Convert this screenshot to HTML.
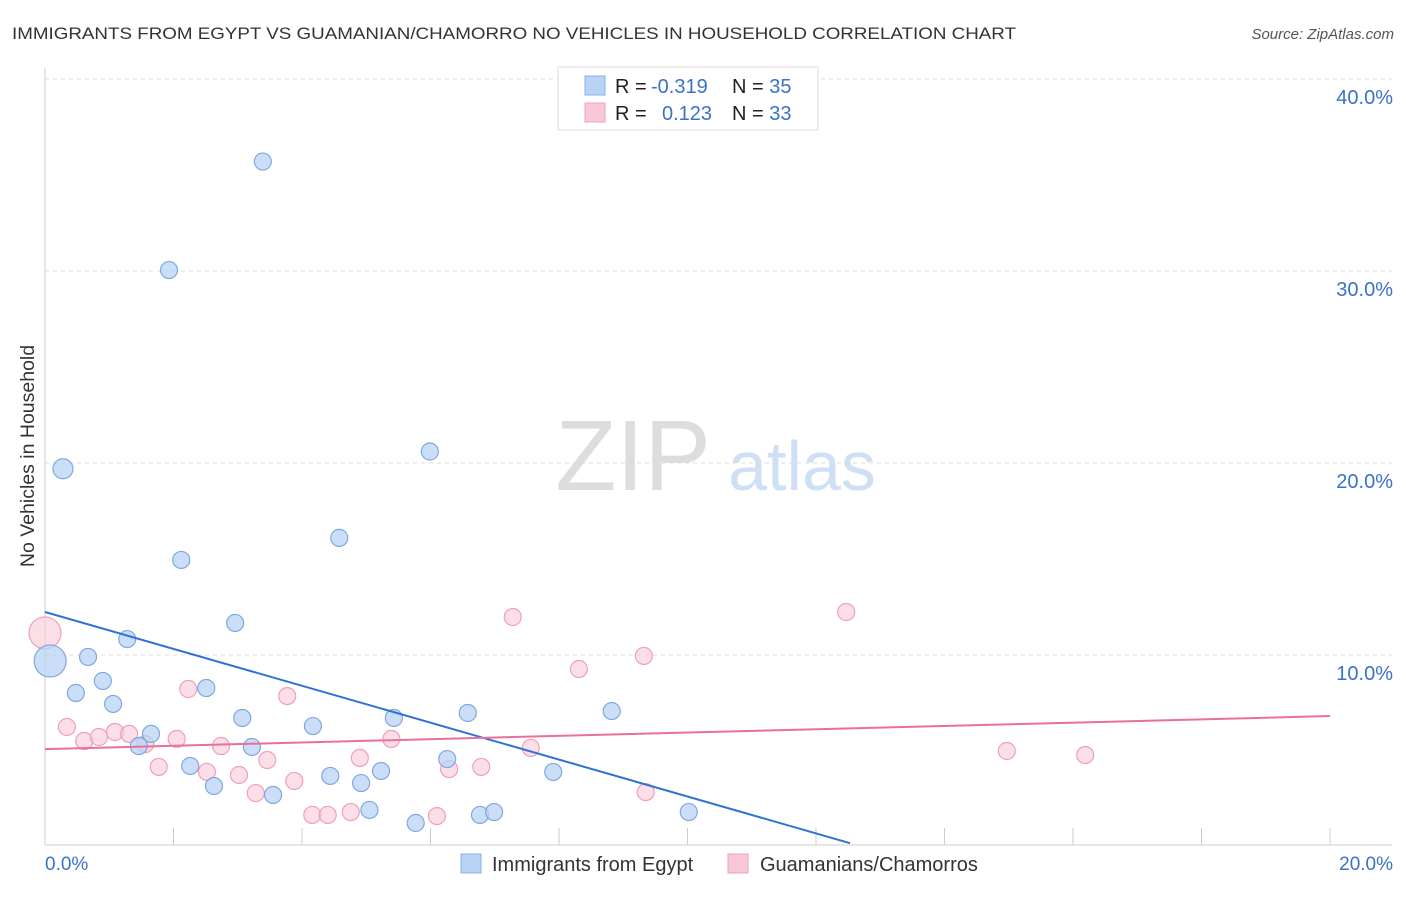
<!DOCTYPE html>
<html><head><meta charset="utf-8">
<style>
body{margin:0;background:#fff;font-family:"Liberation Sans",sans-serif;}
svg text{font-family:"Liberation Sans",sans-serif;}
</style></head>
<body>
<svg id="chart" width="1406" height="892">
<text x="12" y="39" font-size="17" fill="#333" textLength="1004" lengthAdjust="spacingAndGlyphs">IMMIGRANTS FROM EGYPT VS GUAMANIAN/CHAMORRO NO VEHICLES IN HOUSEHOLD CORRELATION CHART</text>
<text x="1394" y="39" font-size="15" fill="#555" font-style="italic" text-anchor="end">Source: ZipAtlas.com</text>
<text x="34" y="456" font-size="19.5" fill="#333" text-anchor="middle" transform="rotate(-90 34 456)">No Vehicles in Household</text>
<g>
<text x="633" y="490" font-size="100" fill="#ddd" font-family="Liberation Serif" text-anchor="middle">ZIP</text>
<text x="802" y="490" font-size="70" fill="#cfe0f5" text-anchor="middle">atlas</text>
</g>
<g id="grid"></g>
<g id="axes"></g>
<g id="marks"></g>
<g>
<rect x="558" y="67" width="260" height="63" fill="#fff" stroke="#ddd"/>
<rect x="585" y="76" width="20" height="19" fill="#b9d3f5" stroke="#88b0e8"/>
<rect x="585" y="103" width="20" height="19" fill="#f9c8d6" stroke="#eea0b8"/>
<text x="615" y="93" font-size="20" fill="#222">R = <tspan fill="#3a72c9" x="651">-0.319</tspan></text>
<text x="732" y="93" font-size="20" fill="#222">N = <tspan fill="#3a72c9">35</tspan></text>
<text x="615" y="120" font-size="20" fill="#222">R = <tspan fill="#3a72c9" x="662">0.123</tspan></text>
<text x="732" y="120" font-size="20" fill="#222">N = <tspan fill="#3a72c9">33</tspan></text>
</g>
<g>
<rect x="461" y="854" width="20" height="19" fill="#b9d3f5" stroke="#88b0e8"/>
<text x="492" y="871" font-size="20" fill="#333">Immigrants from Egypt</text>
<rect x="728" y="854" width="20" height="19" fill="#f9c8d6" stroke="#eea0b8"/>
<text x="760" y="871" font-size="20" fill="#333">Guamanians/Chamorros</text>
</g>
</svg>
<script>
const yTicks=[10,20,30,40];
const yTickLabels=["10.0%","20.0%","30.0%","40.0%"];
const xTickLabels=["0.0%","20.0%"];
const egyptX=[3.39,1.93,0.28,5.99,2.12,4.58,2.96,1.28,0.08,0.67,0.48,0.90,2.51,1.06,3.07,4.17,5.43,6.58,8.82,1.65,1.46,3.22,6.26,2.26,4.44,5.23,7.91,4.92,2.63,3.55,5.05,5.77,6.77,6.99,10.02];
const egyptY=[35.7,30.05,19.7,20.6,14.95,16.1,11.67,10.83,9.69,9.9,8.02,8.65,8.28,7.45,6.72,6.3,6.72,6.98,7.08,5.89,5.26,5.21,4.58,4.22,3.70,3.96,3.91,3.33,3.18,2.71,1.93,1.25,1.67,1.82,1.82];
const guamX=[0,7.28,12.47,9.32,8.31,2.23,3.77,0.34,0.61,0.84,1.09,1.31,1.56,2.05,2.74,5.39,7.56,14.97,16.19,3.46,4.90,1.77,2.52,3.02,6.29,6.79,3.88,3.28,9.35,4.16,4.40,4.76,6.10];
const guamY=[11.15,11.98,12.24,9.95,9.27,8.23,7.86,6.25,5.52,5.73,5.99,5.89,5.36,5.63,5.26,5.63,5.16,5.0,4.79,4.53,4.64,4.17,3.91,3.75,4.06,4.17,3.44,2.81,2.86,1.67,1.67,1.82,1.61];
const egyptTrend=[12.24,0.2];const egyptTrendX=[0,12.53];
const guamTrend=[5.1,6.82];const guamTrendX=[0,20];
const X=v=>45+v*64.25, Y=v=>847-v*19.2;
const NS="http://www.w3.org/2000/svg";
function mk(parent,tag,attrs){const e=document.createElementNS(NS,tag);for(const k in attrs)e.setAttribute(k,attrs[k]);document.getElementById(parent).appendChild(e);return e;}
yTicks.forEach((t,i)=>{
 const l=mk('grid','line',{x1:45,x2:1392,y1:Y(t),y2:Y(t),stroke:'#ddd','stroke-dasharray':'4,4'});
 
 
 const tx=mk('grid','text',{x:1393,y:Y(t)+25,'font-size':20,fill:'#3a72c9','text-anchor':'end'});
 tx.textContent=yTickLabels[i];
 
 
});
const ax=mk('axes','line',{x1:45,x2:45,y1:68,y2:845,stroke:'#ccc'});


const bx=mk('axes','line',{x1:45,x2:1392,y1:845,y2:845,stroke:'#ccc'});


for(let i=0;i<=10;i++){
 const t=mk('axes','line',{x1:X(i*2),x2:X(i*2),y1:828,y2:845,stroke:'#ccc'});
 
 
}
[[0,'start',45],[20,'end',1393]].forEach((d,i)=>{
 const t=mk('axes','text',{x:d[2],y:870,'font-size':19,fill:'#3a72c9','text-anchor':d[1]});
 t.textContent=xTickLabels[i];
 
 
});
function dots(xs,ys,fill,stroke,name){
 xs.forEach((x,i)=>{
  const r=(x<0.3&&ys[i]>9)?(x<0.1?16:10):8.5;
  const c=mk('marks','circle',{cx:X(x),cy:Y(ys[i]),r:r,fill:fill,stroke:stroke,'stroke-width':1.2});
  
  
 });
}
dots(guamX,guamY,'rgba(249,200,214,0.6)','#eea0b8','guam-point');
dots(egyptX,egyptY,'rgba(185,211,245,0.75)','#7fa8e0','egypt-point');
const l1=mk('marks','line',{x1:X(egyptTrendX[0]),y1:Y(egyptTrend[0]),x2:X(egyptTrendX[1]),y2:Y(egyptTrend[1]),stroke:'#2f72d6','stroke-width':2});


const l2=mk('marks','line',{x1:X(guamTrendX[0]),y1:Y(guamTrend[0]),x2:X(guamTrendX[1]),y2:Y(guamTrend[1]),stroke:'#e8709a','stroke-width':2});


</script>
</body></html>
